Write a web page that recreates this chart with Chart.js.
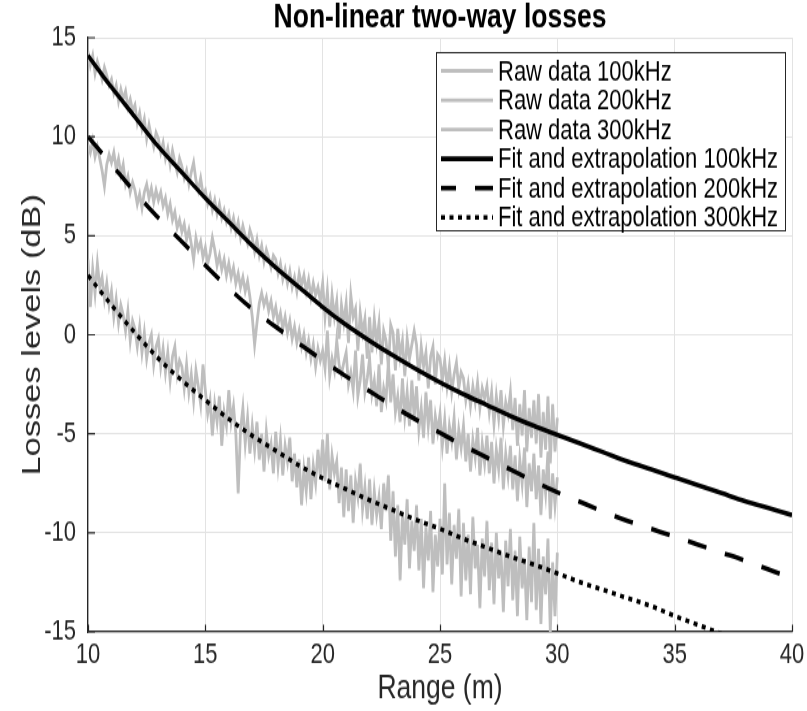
<!DOCTYPE html>
<html>
<head>
<meta charset="utf-8">
<script src="https://cdn.jsdelivr.net/npm/chart.js@4.4.1/dist/chart.umd.min.js"></script>
<style>
  html, body { margin: 0; background: #fff; width: 807px; height: 711px; }
  /* the original figure is stretched vertically, so the chart is drawn at 807x547 and scaled */
  #wrap { width: 807px; height: 547px; transform: scaleY(1.3); transform-origin: 0 0; }
</style>
</head>
<body>
<div id="wrap"><canvas id="myChart" width="807" height="547"></canvas></div>
<script>
// range samples of the measured curves (10 m .. 30 m, every 0.1 m)
var rawX = []
for (var i = 0; i <= 200; i++) rawX.push(+(10 + i * 0.1).toFixed(1))

var raw100 = [
    14.3, 13.6, 14.1, 13.2, 13.8, 13.4, 12.9, 13.5, 13.1, 12.6,
    12.9, 12.2, 12.6, 11.8, 12.4, 11.9, 12.3, 11.5, 11.9, 11.3,
    11.6, 10.7, 11.2, 10.4, 10.9, 9.9, 10.6, 10.0, 9.5, 10.2,
    9.9, 9.2, 9.7, 8.9, 9.4, 8.6, 9.3, 8.7, 8.2, 8.9,
    8.5, 7.9, 8.3, 7.6, 8.2, 8.7, 7.8, 7.3, 7.9, 7.1,
    7.3, 6.6, 7.0, 6.3, 6.8, 6.1, 6.6, 5.9, 6.3, 5.7,
    6.1, 5.4, 5.9, 5.2, 5.7, 4.9, 5.5, 5.0, 4.6, 5.3,
    4.9, 4.2, 4.8, 4.0, 4.5, 3.7, 4.3, 3.9, 3.4, 4.0,
    3.8, 3.1, 3.6, 2.8, 3.3, 2.6, 3.2, 2.4, 2.9, 2.2,
    3.1, 2.5, 3.0, 2.2, 2.8, 1.9, 2.6, 2.0, 2.4, 1.7,
    2.6, 0.9, 2.2, 0.4, 2.0, 0.9, 1.7, -0.2, 1.5, 0.6,
    1.6, -0.4, 2.0, 0.9, 1.3, -0.8, 1.1, 0.1, 0.8, -1.2,
    0.9, -0.9, 0.8, -0.4, 0.6, -1.5, 0.2, -0.3, -1.6, 0.5,
    0.1, -1.8, 0.3, -1.1, -0.3, -2.1, -0.2, -1.2, -0.5, 0.2,
    -0.5, -2.3, -0.6, -1.6, -0.9, -2.7, -1.1, -0.6, -2.5, -1.0,
    -1.2, -2.3, -1.3, -2.6, -1.6, -2.9, -2.0, -1.4, -2.7, -1.9,
    -2.2, -3.3, -2.5, -3.6, -2.6, -3.4, -2.4, -3.7, -2.7, -3.2,
    -2.6, -3.9, -2.9, -4.5, -3.1, -4.2, -2.8, -4.6, -3.4, -4.0,
    -2.9, -4.8, -3.2, -5.6, -3.5, -5.1, -2.8, -5.9, -3.7, -5.2,
    -3.3, -5.5, -3.0, -6.2, -3.9, -5.8, -3.1, -6.5, -3.5, -5.9,
    -4.2
]

var raw200 = [
    9.6, 9.2, 9.8, 9.0, 9.5, 8.9, 8.3, 7.5, 8.6, 9.1,
    8.7, 9.2, 8.4, 8.9, 8.1, 8.6, 7.6, 8.0, 7.2, 7.7,
    7.3, 6.6, 7.1, 6.4, 7.2, 7.6, 6.9, 7.4, 6.7, 7.3,
    6.8, 7.2, 6.5, 6.9, 6.1, 6.6, 5.8, 6.2, 5.4, 5.8,
    5.2, 5.6, 4.8, 5.3, 4.6, 3.8, 4.9, 4.3, 4.7, 3.9,
    4.4, 3.6, 4.1, 4.9, 4.3, 3.5, 4.0, 3.3, 3.8, 3.0,
    3.6, 2.9, 3.4, 2.6, 3.1, 2.4, 2.9, 2.2, 2.7, 1.9,
    0.9, -0.5, 0.6, 1.6, 2.1, 1.5, 1.9, 1.2, 1.7, 0.9,
    1.4, 0.6, 1.1, 0.3, 0.9, 0.1, 0.7, -0.2, 0.4, -0.4,
    0.2, -0.6, 0.0, -0.9, -0.3, -1.2, -0.5, -1.6, -0.7, -1.3,
    -0.8, -1.7, 0.2, -2.1, -1.2, -1.8, -0.3, -1.5, -2.0, -1.4,
    -0.9, -2.5, -1.9, -2.8, -0.8, -3.1, -2.3, -1.0, -2.9, -2.2,
    -1.2, -3.0, -2.3, -3.6, -1.5, -3.9, -2.7, -3.3, -1.4, -3.4,
    -2.0, -3.9, -3.1, -4.4, -2.2, -4.1, -2.9, -4.6, -2.3, -4.2,
    -2.6, -4.8, -3.7, -5.2, -2.9, -4.6, -3.3, -5.5, -4.1, -4.9,
    -4.0, -5.6, -4.3, -6.0, -4.6, -5.4, -4.2, -6.3, -4.8, -5.7,
    -4.6, -6.4, -5.0, -6.9, -5.3, -6.2, -4.7, -7.1, -5.5, -6.5,
    -5.1, -7.0, -5.4, -7.5, -5.8, -6.8, -5.2, -7.8, -6.0, -7.1,
    -5.6, -7.8, -6.1, -8.4, -6.3, -7.5, -5.7, -8.7, -6.5, -7.9,
    -6.0, -8.3, -6.6, -9.1, -6.8, -8.0, -5.9, -9.3, -7.0, -8.6,
    -7.2
]

var raw300 = [
    3.8, 1.4, 3.3, 2.1, 3.6, 2.4, 2.9, 1.8, 2.6, 1.5,
    2.2, 0.9, 1.8, 0.6, 1.5, 1.0, 0.2, 1.2, -0.3, 0.7,
    0.3, -0.6, 0.4, -0.9, 0.1, -1.2, -0.4, 0.0, -1.5, -0.6,
    -0.2, -1.6, -0.7, -1.9, -0.9, -2.3, -1.1, -0.6, -2.0, -1.3,
    -1.6, -2.7, -1.5, -2.9, -2.0, -3.3, -1.8, -2.6, -3.5, -1.5,
    -2.8, -4.0, -3.3, -5.1, -3.5, -4.4, -3.1, -5.6, -3.9, -4.6,
    -2.8, -4.4, -3.6, -5.0, -8.0, -4.8, -3.7, -5.5, -4.2, -6.0,
    -4.6, -5.8, -4.4, -6.3, -5.0, -6.9, -4.9, -6.1, -5.5, -7.0,
    -4.9, -6.6, -5.3, -7.1, -5.6, -6.4, -5.2, -7.4, -6.0, -7.7,
    -6.3, -8.6, -6.8, -7.9, -6.2, -8.3, -6.6, -7.5, -5.8, -7.2,
    -5.3, -7.4, -5.0, -7.8, -6.1, -7.0, -6.4, -8.5, -6.7, -9.2,
    -6.8, -8.9, -7.1, -9.5, -7.4, -8.2, -6.5, -8.8, -7.7, -9.3,
    -7.3, -9.6, -7.9, -9.1, -8.2, -9.8, -7.5, -8.9, -7.1, -10.4,
    -7.9, -11.2, -8.6, -12.4, -9.0, -10.6, -8.3, -11.8, -9.4, -10.9,
    -8.6, -11.9, -9.3, -12.8, -9.7, -11.4, -8.9, -13.0, -10.1, -11.7,
    -9.3, -12.1, -7.5, -11.6, -9.0, -12.6, -9.6, -11.3, -8.8, -13.2,
    -9.5, -12.4, -10.1, -13.1, -9.2, -11.8, -10.6, -13.8, -10.3, -12.2,
    -9.4, -12.9, -10.5, -13.6, -10.0, -12.3, -11.0, -14.0, -10.4, -12.7,
    -9.8, -13.4, -10.9, -14.2, -10.2, -12.8, -11.3, -14.4, -10.7, -13.5,
    -9.5, -13.9, -10.8, -14.6, -11.2, -13.1, -10.3, -15.0, -11.5, -14.2,
    -11.0
]

// fitted / extrapolated curves
var fitX = [10, 11, 12, 13, 14, 15, 16, 17, 18, 19, 20, 21, 22, 23, 24, 25, 26, 27, 28, 29, 30,
            31, 32, 33, 34, 35, 36, 37, 38, 39, 40]
var fit100 = [14.1, 12.5, 11.0, 9.5, 8.2, 6.9, 5.7, 4.5, 3.4, 2.4, 1.4, 0.5, -0.3, -1.05, -1.75, -2.4,
              -3.0, -3.55, -4.1, -4.6, -5.05, -5.5, -5.95, -6.4, -6.8, -7.2, -7.6, -8.0, -8.4, -8.75, -9.1]
var fit200 = [10.0, 8.6, 7.2, 5.9, 4.7, 3.5, 2.35, 1.3, 0.4, -0.45, -1.3, -2.1, -2.85, -3.6, -4.3, -4.95,
              -5.6, -6.2, -6.8, -7.4, -7.95, -8.45, -8.95, -9.4, -9.8, -10.2, -10.6, -11.0, -11.4, -11.85, -12.3]
var fit300 = [3.0, 1.5, 0.1, -1.2, -2.3, -3.3, -4.25, -5.1, -5.85, -6.6, -7.25, -7.8, -8.35, -8.85, -9.35, -9.8,
              -10.3, -10.75, -11.2, -11.6, -12.05, -12.5, -12.9, -13.3, -13.7, -14.2, -14.65, -15.1]

var xTicks = [10, 15, 20, 25, 30, 35, 40]
var yTicks = [-15, -10, -5, 0, 5, 10, 15]

function pts(xs, ys) {
    var out = []
    for (var i = 0; i < ys.length; i++) out.push({ x: xs[i], y: ys[i] })
    return out
}

var FONT = '"Liberation Sans", Arial, Helvetica, sans-serif'
var GREY = '#bebebe'

Chart.defaults.font.family = FONT
Chart.defaults.color = '#262626'

function rawSet(label, ys) {
    return {
        label: label, data: pts(rawX, ys), borderColor: GREY, borderWidth: 2.8,
        pointRadius: 0, tension: 0, order: 2, fill: false
    }
}
function fitSet(label, ys, dash) {
    return {
        label: label, data: pts(fitX, ys), borderColor: '#000', borderWidth: 3.6,
        borderDash: dash, borderCapStyle: 'butt', pointRadius: 0,
        cubicInterpolationMode: 'monotone', order: 1, fill: false
    }
}

// matlab-like title over the axes, inward ticks and a boxed legend
var matlabBits = {
    id: 'matlabBits',
    afterDraw(chart) {
        var c = chart.ctx, a = chart.chartArea
        var xs = chart.scales.x, ys = chart.scales.y
        c.save()
        c.fillStyle = '#000'
        c.font = 'bold 26.5px ' + FONT
        c.textAlign = 'center'
        c.textBaseline = 'middle'
        c.fillText('Non-linear two-way losses', (a.left + a.right) / 2, 13.5)

        c.strokeStyle = '#262626'
        c.lineWidth = 1.2
        c.beginPath()
        xTicks.forEach(function (t) {
            var px = Math.round(xs.getPixelForValue(t)) + 0.5
            c.moveTo(px, a.bottom); c.lineTo(px, a.bottom - 5.5)
        })
        yTicks.forEach(function (t) {
            var py = ys.getPixelForValue(t)
            c.moveTo(a.left, py); c.lineTo(a.left + 7, py)
        })
        c.stroke()

        // legend
        var bx = 436, by = 40, bw = 349, bh = 137
        c.fillStyle = '#fff'
        c.fillRect(bx, by, bw, bh)
        c.strokeStyle = '#262626'
        c.lineWidth = 1
        c.strokeRect(bx + 0.5, by + 0.5, bw, bh)
        var ds = chart.data.datasets
        c.font = '22px ' + FONT
        c.textAlign = 'left'
        c.textBaseline = 'middle'
        for (var i = 0; i < ds.length; i++) {
            var y = by + 14.5 + i * 22.55
            c.beginPath()
            c.strokeStyle = ds[i].borderColor
            c.lineWidth = ds[i].borderWidth
            c.setLineDash(ds[i].borderDash || [])
            c.lineDashOffset = ds[i].borderDash && ds[i].borderDash[0] > 10 ? -34 : 0
            c.moveTo(441, y); c.lineTo(493, y)
            c.stroke()
            c.setLineDash([])
            c.fillStyle = '#000'
            c.fillText(ds[i].label, 498, y + 1)
        }
        c.restore()
    }
}

const ctx = document.getElementById('myChart')

var myChart = new Chart(ctx, {
    type: 'line',
    data: {
        datasets: [
            rawSet('Raw data 100kHz', raw100),
            rawSet('Raw data 200kHz', raw200),
            rawSet('Raw data 300kHz', raw300),
            fitSet('Fit and extrapolation 100kHz', fit100, []),
            fitSet('Fit and extrapolation 200kHz', fit200, [19, 19]),
            fitSet('Fit and extrapolation 300kHz', fit300, [4, 4.5])
        ]
    },
    options: {
        responsive: false,
        animation: false,
        devicePixelRatio: 1,
        layout: { padding: { left: 0, right: 15, top: 29, bottom: 0 } },
        plugins: {
            legend: { display: false },
            tooltip: { enabled: false },
            title: { display: false }
        },
        scales: {
            x: {
                type: 'linear', min: 10, max: 40,
                afterFit: function (s) { s.height = 61; s.paddingLeft = 0; s.paddingRight = 0 },
                afterBuildTicks: function (s) { s.ticks = xTicks.map(function (v) { return { value: v } }) },
                ticks: { font: { size: 22 }, color: '#262626', padding: 5, maxRotation: 0 },
                grid: { color: '#e3e3e3', lineWidth: 1, drawTicks: false },
                border: { color: '#262626', width: 1.2 },
                title: {
                    display: true, text: 'Range (m)', color: '#262626',
                    font: { size: 26.5, lineHeight: 1.2 }, padding: { top: 0, bottom: 1 }
                }
            },
            y: {
                type: 'linear', min: -15, max: 15,
                afterFit: function (s) { s.width = 88; s.paddingTop = 0; s.paddingBottom = 0 },
                afterBuildTicks: function (s) { s.ticks = yTicks.map(function (v) { return { value: v } }) },
                ticks: { font: { size: 22 }, color: '#262626', padding: 12 },
                grid: { color: '#e3e3e3', lineWidth: 1, drawTicks: false },
                border: { color: '#262626', width: 1.3 },
                title: {
                    display: true, text: 'Losses levels (dB)', color: '#262626',
                    font: { size: 26.5, lineHeight: 1.2 }, padding: { top: 17, bottom: 0 }
                }
            }
        }
    },
    plugins: [matlabBits]
});
</script>
</body>
</html>
